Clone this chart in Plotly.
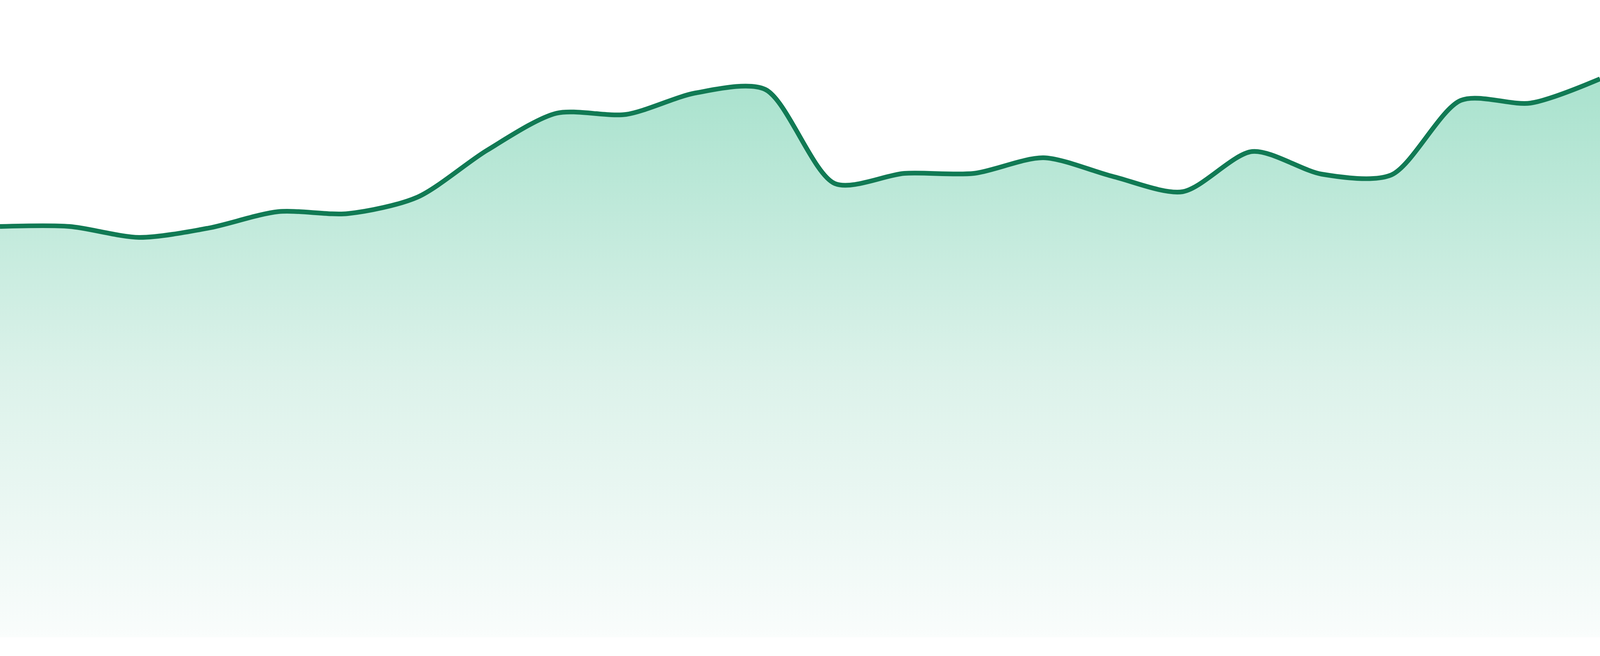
import plotly.graph_objects as go

# 24 data points (e.g. hourly values)
hours = list(range(24))
values = [105.2, 105.2, 102.4, 104.8, 109.0, 108.5, 112.7, 124.7,
          134.2, 133.9, 139.4, 140.3, 116.2, 118.8, 118.8, 122.8,
          118.0, 114.1, 124.4, 118.6, 118.4, 137.5, 136.8, 143.0]

y_max = 163.2
line_color = "#117a54"

REF_W, REF_H = 4800, 1680
BOTTOM = 48
LINE_W = 14

fig = go.Figure()
fig.add_trace(go.Scatter(
    x=hours,
    y=values,
    mode="lines",
    line=dict(color=line_color, width=LINE_W, shape="spline", smoothing=0.8),
    fill="tozeroy",
    fillgradient=dict(
        type="vertical",
        start=0,
        stop=max(values),
        colorscale=[
            [0.0, "rgb(250,253,252)"],
            [0.02, "rgb(248,252,251)"],
            [0.47, "rgb(220,242,234)"],
            [0.935, "rgb(175,228,209)"],
            [1.0, "rgb(170,226,206)"],
        ],
    ),
    hoverinfo="skip",
    showlegend=False,
))

fig.update_layout(
    width=REF_W,
    height=REF_H,
    autosize=False,
    margin=dict(l=0, r=0, t=0, b=BOTTOM, pad=0),
    paper_bgcolor="white",
    plot_bgcolor="white",
    showlegend=False,
    xaxis=dict(range=[0, 23], visible=False, showgrid=False, zeroline=False, fixedrange=True),
    yaxis=dict(range=[0, y_max], visible=False, showgrid=False, zeroline=False, fixedrange=True),
)

post_script = """
var gd = document.getElementById('{plot_id}');
var de = document.documentElement, bd = document.body;
de.style.margin = '0'; de.style.padding = '0'; de.style.overflow = 'hidden';
bd.style.margin = '0'; bd.style.padding = '0'; bd.style.overflow = 'hidden';
var W = window.innerWidth, H = window.innerHeight;
var k = W / %d;
gd.style.width = W + 'px'; gd.style.height = H + 'px';
return Plotly.update(gd, {'line.width': %d * k},
    {width: W, height: H, 'margin.b': H * %d / %d});
""" % (REF_W, LINE_W, BOTTOM, REF_H)

fig.write_html("out.html", config={"displayModeBar": False}, post_script=post_script)
